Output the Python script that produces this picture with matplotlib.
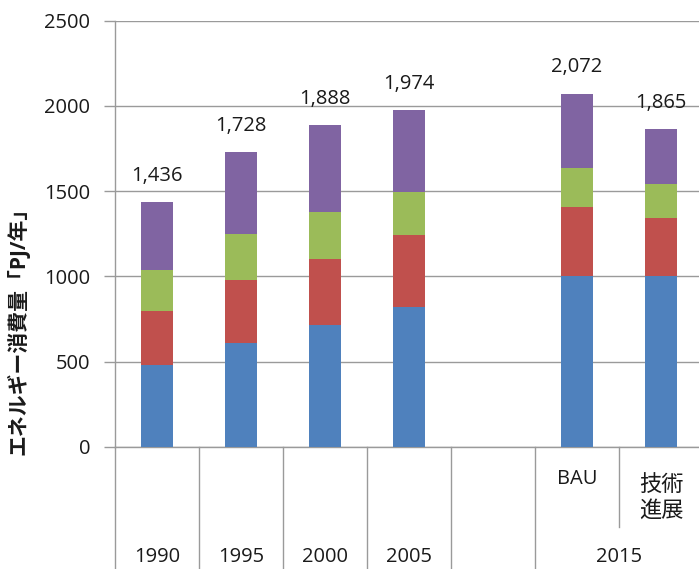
import matplotlib
matplotlib.use("Agg")
import matplotlib.pyplot as plt
import matplotlib.transforms as mtransforms
import numpy as np

plt.rcParams['font.family'] = ['Open Sans', 'Noto Sans CJK JP', 'DejaVu Sans']

# Category slots along the x axis (one empty slot separates history from 2015 scenarios)
slot_labels = ['1990', '1995', '2000', '2005', '', 'BAU', '技術\n進展']
group_labels = ['1990', '1995', '2000', '2005', '', '2015']
group_spans = [1, 1, 1, 1, 1, 2]

# Energy consumption by component [PJ/year]
seg_blue = [480, 610, 715, 820, np.nan, 1000, 1000]
seg_red = [320, 370, 385, 425, np.nan, 405, 345]
seg_green = [240, 270, 280, 250, np.nan, 230, 200]
seg_purple = [396, 478, 508, 479, np.nan, 437, 320]

colors = ['#4F81BD', '#C0504D', '#9BBB59', '#8064A2']
grid_color = '#9a9a9a'
text_color = '#1a1a1a'
num_size = 14.5

fig = plt.figure(figsize=(6.99, 5.69), dpi=100)
W, H = 699, 569
ax_left, ax_right, ax_top, ax_bottom = 115, 703, 20.7, 447
ax = fig.add_axes([ax_left / W, (H - ax_bottom) / H,
                   (ax_right - ax_left) / W, (ax_bottom - ax_top) / H])

x = np.arange(len(slot_labels))
segments = [seg_blue, seg_red, seg_green, seg_purple]
bottom = np.zeros(len(x))
for vals, col in zip(segments, colors):
    v = np.array(vals, dtype=float)
    ax.bar(x, np.nan_to_num(v), width=0.38, bottom=bottom, color=col,
           linewidth=0, zorder=3)
    bottom = bottom + np.nan_to_num(v)

totals = bottom
for xi, t in zip(x, totals):
    if t > 0:
        ax.annotate(f"{int(round(t)):,}", (xi, t), xytext=(0, 19),
                    textcoords='offset points', ha='center', va='center',
                    fontsize=num_size, color=text_color)

ax.set_xlim(-0.5, len(x) - 0.5)
ax.set_ylim(0, 2500)
ax.set_yticks(np.arange(0, 2501, 500))
ax.yaxis.grid(True, color=grid_color, linewidth=1, zorder=0)
ax.tick_params(axis='y', direction='out', length=8, width=1, color=grid_color,
               labelsize=num_size, labelcolor=text_color, pad=10)
ax.set_xticks([])
for s in ['top', 'right', 'bottom']:
    ax.spines[s].set_visible(False)
ax.spines['left'].set_color(grid_color)
ax.spines['left'].set_linewidth(1)

# Two-level category table below the plot
trans = mtransforms.blended_transform_factory(ax.transData, fig.transFigure)
y_axis = (H - ax_bottom) / H
y_mid = (H - 527) / H
ax.plot([-0.5, len(x) - 0.5], [y_axis, y_axis], transform=trans,
        color=grid_color, lw=1, clip_on=False)
ax.plot([-0.5, -0.5], [0, y_axis], transform=trans, color=grid_color, lw=1,
        clip_on=False)
edge = -0.5
for lab, span in zip(group_labels, group_spans):
    right = edge + span
    ax.plot([right, right], [0, y_axis], transform=trans, color=grid_color,
            lw=1, clip_on=False)
    if span > 1:
        for k in range(1, span):
            ax.plot([edge + k, edge + k], [y_mid, y_axis], transform=trans,
                    color=grid_color, lw=1, clip_on=False)
    ax.text((edge + right) / 2, (H - 557) / H, lab, transform=trans,
            ha='center', va='center', fontsize=num_size, color=text_color)
    edge = right

for xi, lab in zip(x, slot_labels):
    if lab and not lab.isdigit():
        n_lines = lab.count('\n') + 1
        yc = 479 if n_lines == 1 else 498
        ax.text(xi, (H - yc) / H, lab, transform=trans, ha='center',
                va='center', fontsize=num_size if n_lines == 1 else 16,
                color=text_color, linespacing=1.3)

fig.text(18 / W, (H - 326) / H, 'エネルギー消費量「PJ/年」', rotation=90,
         ha='center', va='center', fontsize=15, fontweight='bold',
         color=text_color)

fig.savefig('out.png', dpi=100)
